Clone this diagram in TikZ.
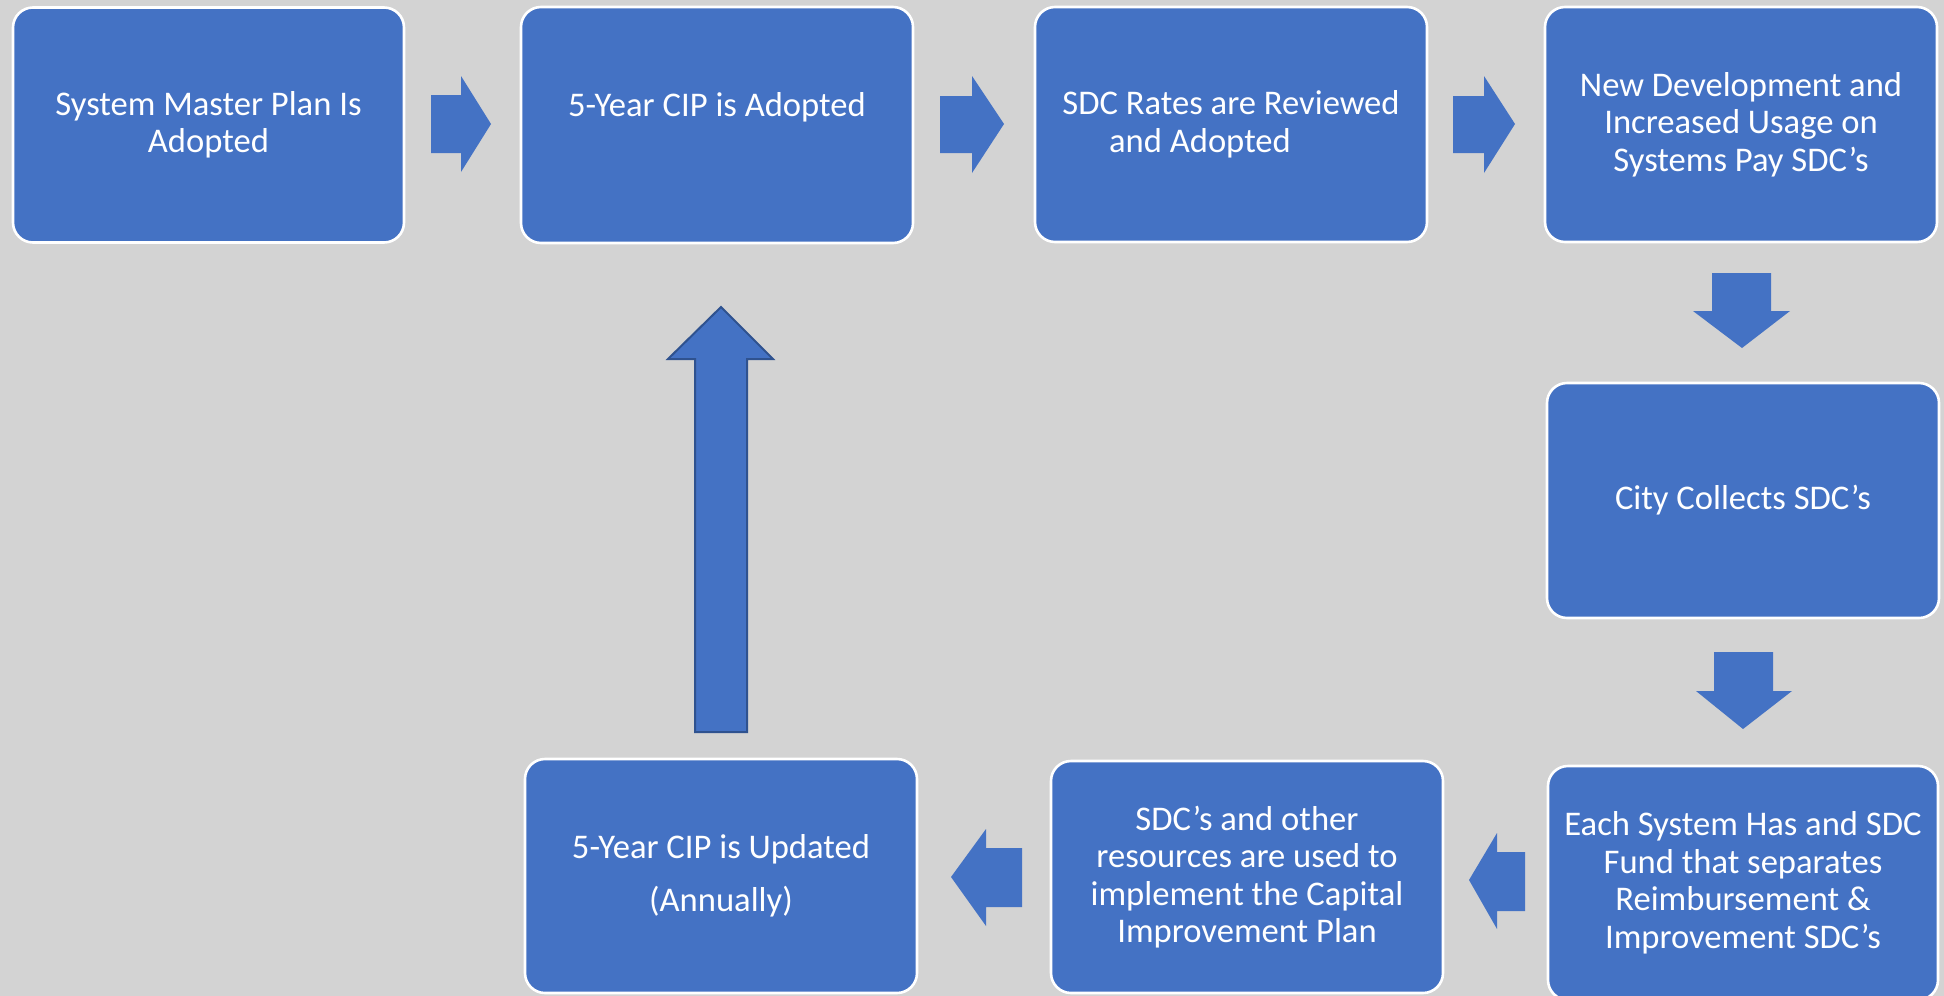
\documentclass[tikz,border=0pt]{standalone}
\usepackage{fontspec}
\setmainfont{Carlito}
\definecolor{bg}{RGB}{211,211,211}
\definecolor{boxblue}{RGB}{68,114,196}
\definecolor{darkblue}{RGB}{47,82,143}
\begin{document}
\begin{tikzpicture}[x=0.5pt,y=-0.5pt,
  stepbox/.style={rectangle, rounded corners=10pt, fill=boxblue, draw=white,
    line width=1.3pt, text=white, align=center,
    font=\fontsize{17.3}{18.75}\selectfont, inner sep=0pt, minimum width=196pt},
  blockarrow/.style={fill=boxblue},
  uparrow/.style={fill=boxblue, draw=darkblue, line width=1pt}]
\fill[bg] (0,0) rectangle (1944,996);
\useasboundingbox (0,0) rectangle (1944,996);

% top row
\node[stepbox, minimum width=195.5pt, minimum height=117.5pt] (b1) at (208.5,125) {System Master Plan Is\\Adopted};
\node[stepbox, minimum height=118pt] (b2) at (717,125) {5-Year CIP is Adopted\\[-4pt]\strut};
\node[stepbox, minimum height=117.5pt] (b3) at (1231,124.5) {SDC Rates are Reviewed\\and Adopted\hspace*{31pt}};
\node[stepbox, minimum height=117.5pt] (b4) at (1741,124.5) {New Development and\\Increased Usage on\\Systems Pay SDC’s};
% right column
\node[stepbox, minimum height=117.5pt] (b5) at (1743,500.5) {City Collects SDC’s};
\node[stepbox, minimum width=195pt, minimum height=117pt] (b6) at (1743,883) {Each System Has and SDC\\Fund that separates\\Reimbursement \&\\Improvement SDC’s};
% bottom row
\node[stepbox, minimum height=116pt] (b7) at (1247,877) {SDC’s and other\\resources are used to\\implement the Capital\\Improvement Plan};
\node[stepbox, minimum height=117pt] (b8) at (721,876) {5-Year CIP is Updated\\[7.75pt](Annually)};

% right-pointing block arrows
\fill[blockarrow] (431,95) -- (461,95) -- (461,76) -- (491,124) -- (461,172) -- (461,153) -- (431,153) -- cycle;
\fill[blockarrow] (940,96) -- (972,96) -- (972,76) -- (1004,124) -- (972,173) -- (972,153) -- (940,153) -- cycle;
\fill[blockarrow] (1453,96) -- (1484,96) -- (1484,76) -- (1515,124) -- (1484,173) -- (1484,153) -- (1453,153) -- cycle;
% down-pointing block arrows
\fill[blockarrow] (1712,273) -- (1771,273) -- (1771,311) -- (1790,311) -- (1742,348) -- (1693,311) -- (1712,311) -- cycle;
\fill[blockarrow] (1714,652) -- (1773,652) -- (1773,691) -- (1792,691) -- (1743,729) -- (1696,691) -- (1714,691) -- cycle;
% left-pointing block arrows
\fill[blockarrow] (1525,852) -- (1497,852) -- (1497,833) -- (1469,880) -- (1497,929) -- (1497,911) -- (1525,911) -- cycle;
\fill[blockarrow] (1022,848) -- (986,848) -- (986,829) -- (951,877) -- (986,926) -- (986,907) -- (1022,907) -- cycle;
% up arrow
\filldraw[uparrow] (695,732) -- (695,359) -- (668,359) -- (721,307) -- (773,359) -- (747,359) -- (747,732) -- cycle;
\end{tikzpicture}
\end{document}
